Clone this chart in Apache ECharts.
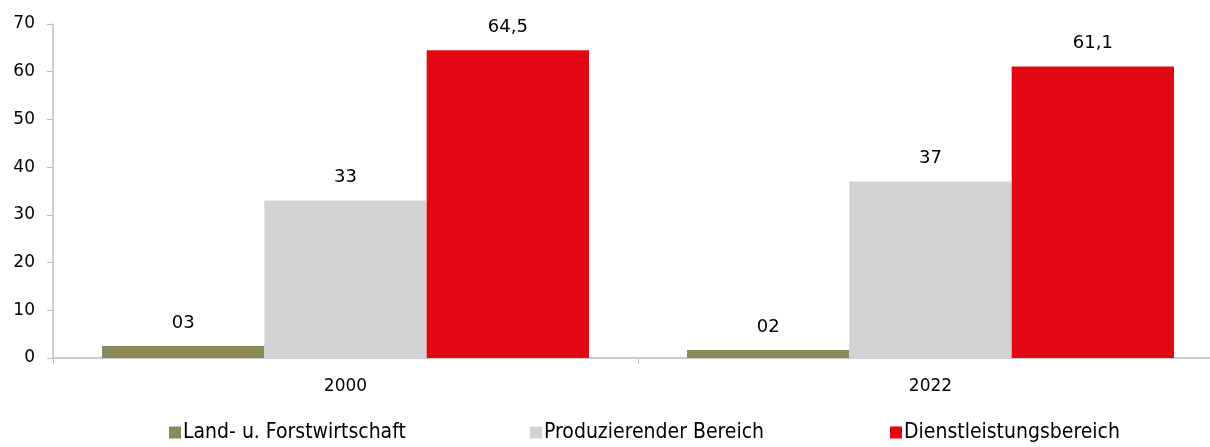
<!DOCTYPE html>
<html><head><meta charset="utf-8">
<script src="https://cdn.jsdelivr.net/npm/echarts@6/dist/echarts.min.js"></script>
<style>html,body{margin:0;padding:0;background:#fff}#c{width:1210px;height:447px}</style>
</head><body><div id="c"></div>
<script>
const categories = ['2000', '2022'];
const seriesNames = ['Land- u. Forstwirtschaft', 'Produzierender Bereich', 'Dienstleistungsbereich'];
const landValues = [2.5, 1.7];
const landLabels = ['03', '02'];
const prodValues = [33, 37];
const prodLabels = ['33', '37'];
const dienstValues = [64.5, 61.1];
const dienstLabels = ['64,5', '61,1'];
const colors = ['#8b8a5b', '#d3d3d3', '#e30613'];

const chart = echarts.init(document.getElementById('c'), null, {renderer: 'canvas'});
const font = '"DejaVu Sans", Verdana, sans-serif';
function mk(name, vals, labels, color) {
  return {
    name, type: 'bar', data: vals, barGap: '0%', barCategoryGap: '16.75%',
    itemStyle: {color},
    label: {show: true, position: 'top', distance: 14, color: '#000', fontSize: 18, fontFamily: font,
      formatter: p => labels[p.dataIndex]}
  };
}
const legendLefts = [164, 525, 885];
chart.setOption({
  animation: false,
  color: colors,
  grid: {left: 53, top: 24, bottom: 89, width: 1170, containLabel: false, outerBoundsMode: 'none'},
  legend: seriesNames.map((n, i) => ({
    bottom: -1, left: legendLefts[i], itemGap: 0, itemWidth: 12, itemHeight: 12, icon: 'rect',
    textStyle: {fontFamily: '"DejaVu Sans Condensed", sans-serif', fontSize: 21, color: '#000', padding: [0,0,0,-3]},
    data: [n]
  })),
  xAxis: {
    type: 'category', data: categories,
    axisLine: {lineStyle: {color: '#bfbfbf', width: 1.5}},
    axisTick: {show: true, length: 6, lineStyle: {color: '#bfbfbf'}},
    axisLabel: {color: '#000', fontSize: 17, fontFamily: font, margin: 20}
  },
  yAxis: {
    type: 'value', min: 0, max: 70, interval: 10,
    splitLine: {show: false},
    axisLine: {show: true, lineStyle: {color: '#bfbfbf', width: 1.5}},
    axisTick: {show: true, length: 6, lineStyle: {color: '#bfbfbf'}},
    axisLabel: {color: '#000', fontSize: 17, fontFamily: font, margin: 18}
  },
  series: [
    mk(seriesNames[0], landValues, landLabels, colors[0]),
    mk(seriesNames[1], prodValues, prodLabels, colors[1]),
    mk(seriesNames[2], dienstValues, dienstLabels, colors[2])
  ]
});
</script></body></html>
